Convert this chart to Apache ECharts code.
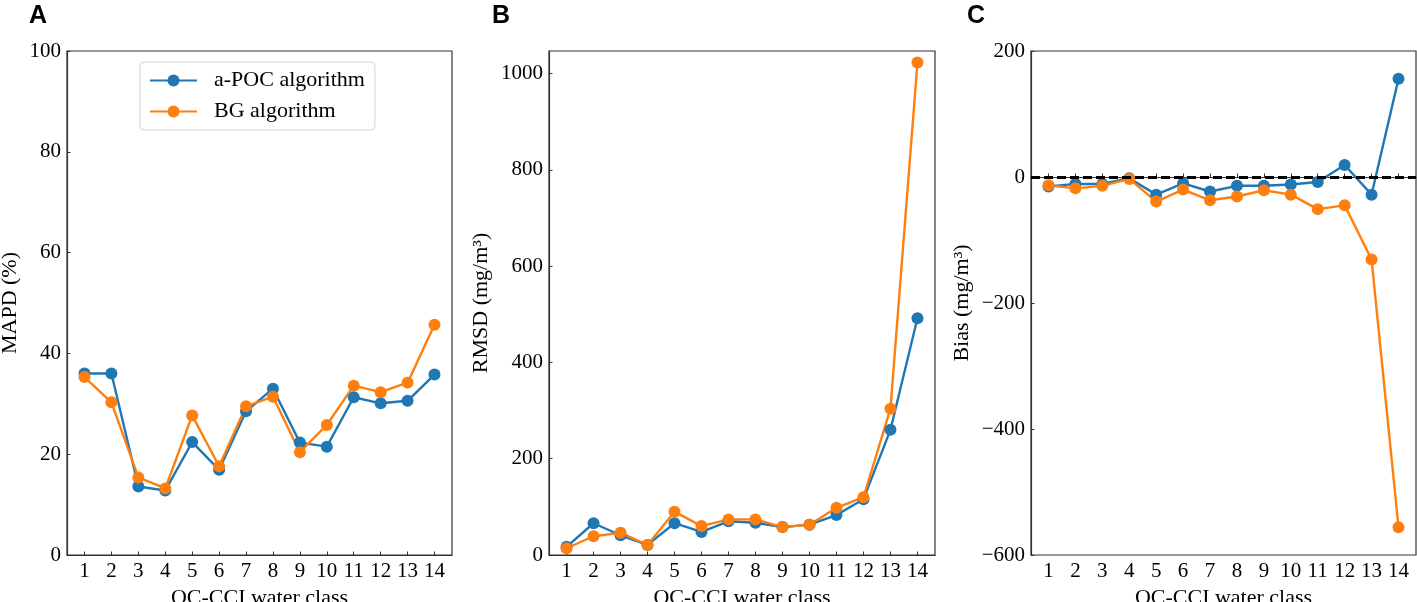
<!DOCTYPE html>
<html>
<head>
<meta charset="utf-8">
<script src="https://cdn.jsdelivr.net/npm/echarts@6/dist/echarts.min.js"></script>
<style>
html,body{margin:0;padding:0;background:#fff;overflow:hidden;}
#chart{width:1417px;height:602px;position:absolute;left:0;top:0;}
</style>
</head>
<body>
<div id="chart"></div>
<script>
// ---- data ----
const waterClasses = [1,2,3,4,5,6,7,8,9,10,11,12,13,14];
const seriesNames = ['a-POC algorithm', 'BG algorithm'];

const mapdAPOC = [36.0, 36.0, 13.6, 12.8, 22.4, 16.9, 28.5, 33.0, 22.3, 21.5, 31.3, 30.1, 30.6, 35.8];
const mapdBG   = [35.3, 30.3, 15.4, 13.2, 27.7, 17.6, 29.5, 31.4, 20.4, 25.8, 33.6, 32.3, 34.2, 45.7];

const rmsdAPOC = [17, 66, 41, 21, 66, 48, 70, 67, 58, 63, 83, 116, 260, 492];
const rmsdBG   = [14, 39, 46, 21, 90, 60, 74, 74, 58, 63, 98, 120, 304, 1023];

const biasAPOC = [-15, -11, -11, -2, -28, -10, -23, -14, -14, -12, -8, 19, -28, 156];
const biasBG   = [-13, -18, -14, -3, -39, -20, -37, -31, -21, -28, -51, -45, -131, -556];

const mapdTicks = [0, 20, 40, 60, 80, 100];
const rmsdTicks = [0, 200, 400, 600, 800, 1000];
const biasTicks = [-600, -400, -200, 0, 200];

const panelLetters = ['A', 'B', 'C'];
const yTitles = ['MAPD (%)', 'RMSD (mg/m\u00B3)', 'Bias (mg/m\u00B3)'];
const xTitle = 'OC-CCI water class';

// ---- styling ----
const BLUE = '#1f77b4', ORANGE = '#ff7f0e';
const SERIF = 'Liberation Serif';
const AX = '#333333';

const grids = [
  {left: 67,  top: 51, width: 385, height: 504},
  {left: 549, top: 51, width: 386, height: 504},
  {left: 1031, top: 51, width: 385, height: 504}
];

function pairs(vals){ return waterClasses.map((c,i)=>[c, vals[i]]); }
const fmtMinus = v => String(v).replace('-', '\u2212');

const xAxes = grids.map((g,i)=>({
  type: 'value', gridIndex: i, min: 0.35, max: 14.65,
  name: xTitle, nameLocation: 'middle', nameGap: 31,
  nameTextStyle: {fontFamily: SERIF, fontSize: 22, color: '#000'},
  axisLine: {show: true, lineStyle: {color: AX, width: 1.2}},
  axisTick: {show: true, inside: true, length: 3.5, customValues: waterClasses, lineStyle: {color: AX}},
  axisLabel: {customValues: waterClasses, fontFamily: SERIF, fontSize: 21, color: '#000', margin: 6},
  splitLine: {show: false}
}));

const yCfg = [
  {min: 0, max: 100, ticks: mapdTicks, gap: 46},
  {min: 0, max: 1047, ticks: rmsdTicks, gap: 57},
  {min: -600, max: 200, ticks: biasTicks, gap: 58}
];
const yAxes = yCfg.map((c,i)=>({
  type: 'value', gridIndex: i, min: c.min, max: c.max,
  name: yTitles[i], nameLocation: 'middle', nameGap: c.gap,
  nameTextStyle: {fontFamily: SERIF, fontSize: 22, color: '#000'},
  axisLine: {show: true, lineStyle: {color: AX, width: 1.2}},
  axisTick: {show: true, inside: true, length: 3.5, customValues: c.ticks, lineStyle: {color: AX}},
  axisLabel: {customValues: c.ticks, fontFamily: SERIF, fontSize: 21, color: '#000', margin: 6, formatter: fmtMinus},
  splitLine: {show: false}
}));

function lineSeries(name, color, idx, vals, extra){
  return Object.assign({
    type: 'line', name: name, xAxisIndex: idx, yAxisIndex: idx,
    data: pairs(vals), symbol: 'circle', symbolSize: 12, showSymbol: true,
    lineStyle: {color: color, width: 2.4}, itemStyle: {color: color},
    emphasis: {disabled: true}, animation: false
  }, extra || {});
}

const series = [
  lineSeries(seriesNames[0], BLUE, 0, mapdAPOC),
  lineSeries(seriesNames[1], ORANGE, 0, mapdBG),
  lineSeries(seriesNames[0], BLUE, 1, rmsdAPOC),
  lineSeries(seriesNames[1], ORANGE, 1, rmsdBG),
  lineSeries(seriesNames[0], BLUE, 2, biasAPOC, {
    markLine: {
      silent: true, symbol: 'none', animation: false,
      label: {show: false},
      lineStyle: {color: '#000', type: [9, 4], width: 2.8, opacity: 1},
      emphasis: {disabled: true},
      data: [{yAxis: 0}]
    }
  }),
  lineSeries(seriesNames[1], ORANGE, 2, biasBG)
];

const chart = echarts.init(document.getElementById('chart'), null, {renderer: 'canvas', width: 1417, height: 602});
chart.setOption({
  backgroundColor: '#fff',
  animation: false,
  grid: grids.map(g => Object.assign({show: true, borderColor: AX, borderWidth: 1.2, backgroundColor: 'transparent', containLabel: false, outerBoundsMode: 'none'}, g)),
  xAxis: xAxes,
  yAxis: yAxes,
  legend: {
    data: seriesNames,
    orient: 'vertical',
    left: 140, top: 62,
    padding: [7, 10, 7, 9],
    itemWidth: 47, itemHeight: 15, itemGap: 8,
    borderColor: '#d4d4d4', borderWidth: 1, borderRadius: 4,
    backgroundColor: '#fff',
    textStyle: {fontFamily: SERIF, fontSize: 22, color: '#000', lineHeight: 23, padding: [0, 0, 0, 12]}
  },
  graphic: panelLetters.map((t,i)=>({
    type: 'text', left: [29, 492, 967][i], top: 4,
    style: {text: t, font: 'bold 25px "Liberation Sans"', fill: '#000'}
  })),
  series: series
});
</script>
</body>
</html>
